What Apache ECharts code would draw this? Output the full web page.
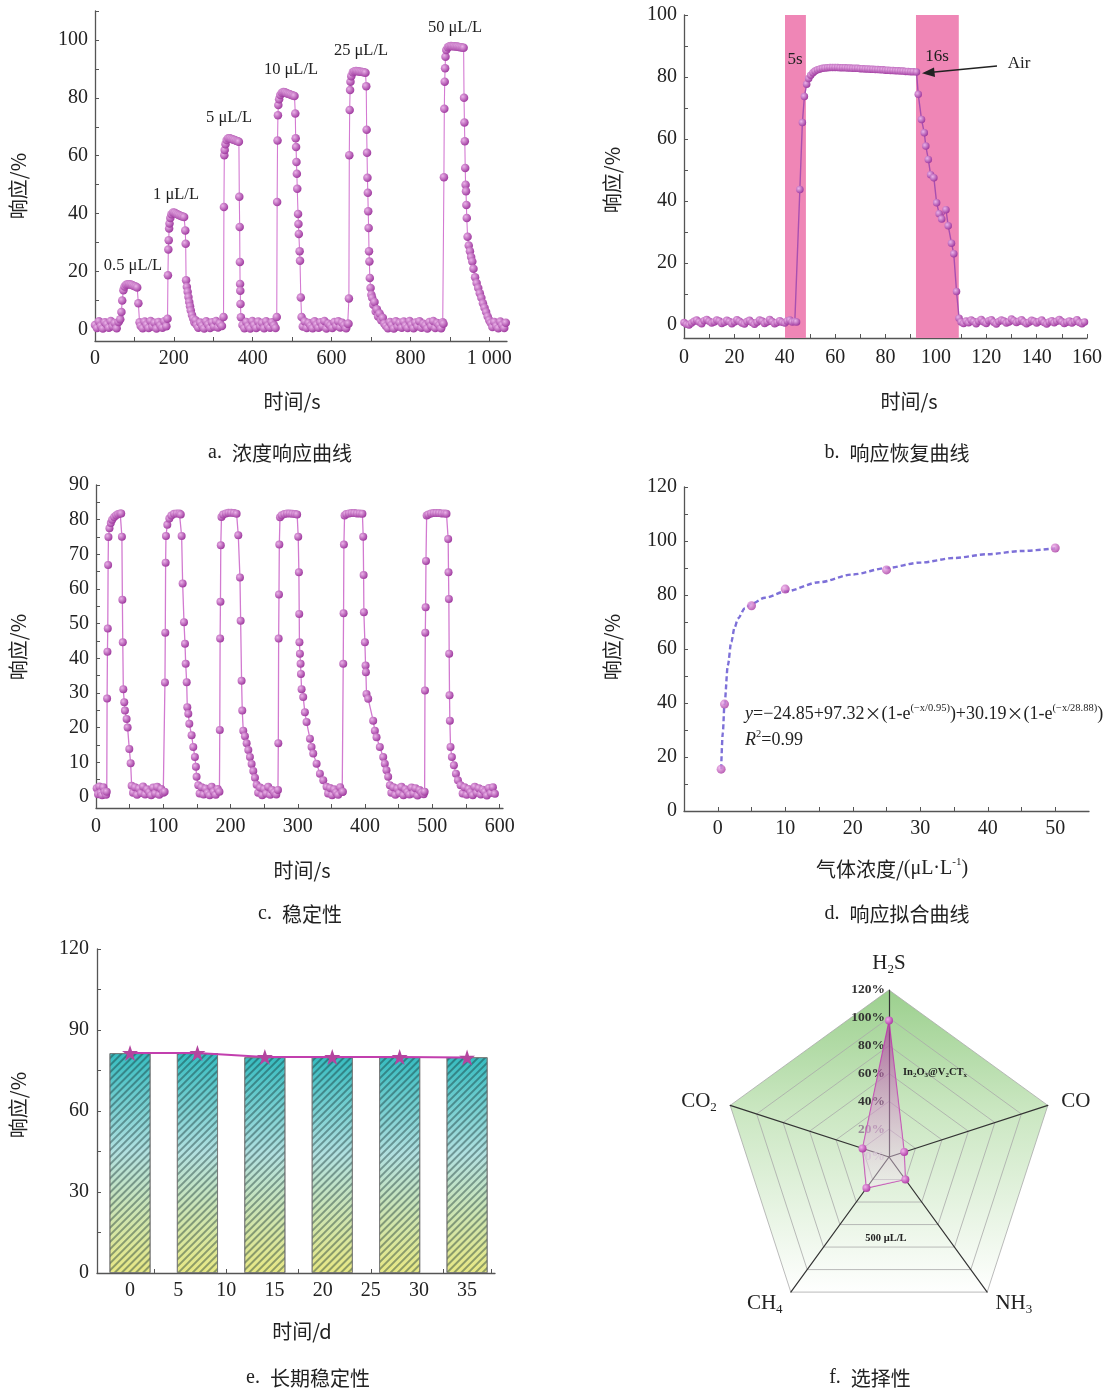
<!DOCTYPE html>
<html><head><meta charset="utf-8">
<script src="https://cdn.jsdelivr.net/npm/echarts@6/dist/echarts.min.js"></script>
<style>html,body{margin:0;padding:0;background:#fff}#c{width:1118px;height:1388px}</style>
</head><body><div id="c"></div>
<script>
// ---------- DATA ----------
// a. concentration response (time s, response %)
const aData = [
[0,1.5],[5,0.5],[10,2.8],[15,1.2],[20,0.3],[25,2.5],[30,1.8],[35,0.6],[40,2.9],[45,1.1],[50,2.2],[55,0.4],[60,2.6],
[64,3.5],[67,6],[69,10],[72,13.5],[75,14.8],[79,15.4],[83,15.6],[87,15.6],[91,15.5],[95,15.3],[99,15],[103,14.8],[107,14.5],[110,9],[113,2.5],
[116,1.2],[121,0.4],[126,2.7],[131,1.6],[136,0.5],[141,2.9],[146,1.0],[151,2.3],[156,0.3],[161,2.6],[166,1.4],[171,0.6],[176,2.8],[181,1.1],
[184,3.7],[185,18.7],[186,27.6],[187,30.8],[188,34.9],[189,36.6],[191,38.5],[194,39.8],[198,40.4],[202,40.3],[206,40],[210,39.7],[214,39.4],[218,39.2],[222,39],[226,38.8],[229,34.2],[230,29.6],[231,17],[233,14.7],[235,13],[237,11.2],[239,9.5],[241,8],[243,6.5],[246,5],[249,3.8],[252,2.5],[255,3.2],[258,1.5],
[262,0.6],[267,2.4],[272,1.3],[277,0.3],[282,2.8],[287,1.7],[292,0.5],[297,2.5],[302,1.0],[307,2.9],[312,0.7],[317,2.1],[322,1.2],
[326,4.3],[327,42.3],[328,60.2],[329,62],[331,64],[334,65.4],[338,66],[342,66],[346,65.8],[350,65.6],[354,65.4],[358,65.2],[362,65],[365,64.8],[366,45.8],[367,35.4],[367.5,23.3],[368,15.7],[368.5,13.4],[369,8.8],[370,4.2],
[374,1.5],[379,0.4],[384,2.6],[389,1.2],[394,0.3],[399,2.9],[404,1.5],[409,0.5],[414,2.7],[419,1.1],[424,2.2],[429,0.4],[434,2.8],[439,1.3],[444,0.6],[449,2.5],[454,1.4],[458,0.5],
[461,4.3],[462,44],[463,65.3],[464,74],[465,77.5],[467,79.5],[470,81],[474,81.8],[478,82],[482,81.9],[486,81.6],[490,81.4],[494,81.2],[498,81],[502,80.8],[506,80.6],[508,74.6],[509,66],[510,63],[511,57.8],[512,53.8],[513,48.6],[515,39.9],[516,36.4],[517,33],[519,27],[520,23.7],[522,11],[524,4.3],
[527,1.0],[532,2.7],[537,0.5],[542,2.2],[547,1.3],[552,0.4],[557,2.8],[562,1.6],[567,0.6],[572,2.5],[577,1.1],[582,2.9],[587,0.3],[592,2.0],[597,1.4],[602,0.5],[607,2.6],[612,1.2],[617,2.8],[622,0.7],[627,2.3],[632,1.5],[637,0.4],[641,2.0],
[643,2],[644,10.7],[645,60.2],[646,75.8],[647,82.7],[648,85.6],[650,87.5],[654,88.8],[658,89.2],[662,89.3],[666,89.2],[670,89.1],[674,89],[678,88.9],[682,88.8],[686,88.7],[688,84],[689,69],[690,61],[691,52.4],[692,47.2],[693,40.8],[694,35],[695,27],[696,23.5],[697,17.8],[699,14.3],[701,12],[703,10.9],[706,8.5],[709,9.5],[712,6.2],[715,7],[718,4.5],[722,5.5],[726,3.2],[730,4],[734,2],
[738,1.2],[743,0.4],[748,2.6],[753,1.5],[758,0.3],[763,2.8],[768,1.0],[773,2.3],[778,0.6],[783,2.7],[788,1.3],[793,0.5],[798,2.9],[803,1.6],[808,0.4],[813,2.4],[818,1.1],[823,2.8],[828,0.6],[833,2.0],[838,1.4],[843,0.3],[848,2.6],[853,1.2],[858,2.9],[863,0.5],[868,2.2],[873,1.5],[878,0.4],[882,2.5],
[884,2],[885,52.6],[886,76.2],[887,85.6],[888,90.2],[889,94.2],[891,96.5],[895,97.5],[899,97.8],[903,97.9],[907,97.8],[911,97.8],[915,97.7],[919,97.7],[923,97.6],[927,97.5],[931,97.4],[935,97.3],[936,80],[937,71.5],[938,65],[939,55.8],[940,50],[941,47.7],[942,43],[943,38.5],[945,32],[948,29],[951,27],[954,25],[957,23.5],[960,21],[964,18],[968,16],[972,14.3],[976,12.5],[980,10.9],[984,9],[988,7.5],[992,6],[996,4.5],[1000,3.2],[1004,2.2],
[1008,0.8],[1013,2.6],[1018,1.2],[1023,0.4],[1028,2.7],[1033,1.5],[1038,0.5],[1042,2.3]
];
const aLabels = ['0.5 μL/L','1 μL/L','5 μL/L','10 μL/L','25 μL/L','50 μL/L'];

// b. response / recovery (time s, response %)
const bData = [
[0,0.8],[1,0.2],[2,0.0],[3,0.6],[4,1.2],[5,1.6],[6,1.0],[7,0.4],[8,1.4],[9,1.8],[10,1.2],[11,0.6],[12,1.0],[13,1.6],[14,1.3],[15,0.5],[16,0.9],[17,1.5],[18,1.1],[19,0.4],[20,1.0],[21,1.7],[22,1.2],[23,0.6],[24,0.3],[25,1.1],[26,1.5],[27,0.8],[28,0.2],[29,0.9],[30,1.6],[31,1.3],[32,0.5],[33,1.0],[34,1.8],[35,1.1],[36,0.4],[37,0.8],[38,1.4],[39,0.9],[40,0.6],[41,1.3],[42,1.6],[43,1.0],[44,1.1],[44.7,1.0],
[46,43.7],[47,65.3],[47.8,73.7],[48.7,77.7],[49.5,79.5],[50.3,80.6],[51.2,81.4],[52,81.9],[53,82.3],[54,82.6],[55,82.8],[56,82.9],
[57,83.0],[58,83.1],[59,83.1],[60,83.1],[61,83.1],[62,83.0],[63,83.0],[64,83.0],[65,82.9],[66,82.9],[67,82.8],[68,82.8],[69,82.8],[70,82.7],[71,82.7],[72,82.6],[73,82.6],[74,82.5],[75,82.5],[76,82.4],[77,82.4],[78,82.3],[79,82.3],[80,82.2],[81,82.2],[82,82.1],[83,82.1],[84,82.0],[85,82.0],[86,81.9],[87,81.9],[88,81.8],[89,81.8],[90,81.7],[91,81.7],[92.3,81.6],
[93,74.4],[94.3,66.3],[95.4,62],[96,57.7],[97,53.4],[97.9,48.5],[99.2,47.5],[100.3,39.4],[101.3,35.9],[102.3,34.2],[104,37.2],[104.9,32],[106.2,26.4],[107.1,23],[108.2,10.8],[109.2,2.2],
[110,1.0],[111,0.5],[112,1.3],[113,0.7],[114,1.6],[115,1.1],[116,0.4],[117,1.2],[118,1.8],[119,1.0],[120,0.5],[121,1.4],[122,1.7],[123,0.9],[124,0.3],[125,1.1],[126,1.6],[127,1.3],[128,0.6],[129,1.0],[130,1.9],[131,1.4],[132,0.8],[133,1.2],[134,1.7],[135,1.0],[136,0.4],[137,0.9],[138,1.5],[139,1.2],[140,0.6],[141,1.1],[142,1.6],[143,0.8],[144,0.3],[145,1.0],[146,1.4],[147,0.7],[148,1.2],[149,1.8],[150,1.1],[151,0.5],[152,0.9],[153,1.3],[154,0.6],[155,1.1],[156,1.7],[157,0.8],[158,0.4],[159,1.0]
];
const bBands = [[40.1,48.4],[92.1,109.1]];

// c. stability / repeated cycles (time s, response %)
const cData = [
[1,2.5],[3,0.8],[5,3.0],[7,1.2],[9,0.5],[11,2.8],[13,1.5],[15,0.6],
[16,1.5],[16.5,28.4],[17,41.9],[17.5,48.6],[18,66.9],[18.5,75],[20,77.5],[22,79],[24,80],[27,80.8],[30,81.3],[33,81.6],[36,81.8],[37.5,81.8],
[38.5,75.1],[39.2,56.9],[39.8,44.6],[40.6,31.1],[42,27.3],[43,24.9],[45.5,22.5],[47,20],[49.5,13.8],[51.5,9.7],[53,3.2],
[55,1.2],[58,2.8],[61,0.6],[64,2.4],[67,1.1],[70,3.0],[73,0.7],[76,2.2],[79,1.4],[82,0.5],[85,2.7],[88,1.0],[91,2.9],[94,0.6],[97,2.3],[100,1.2],
[102,1.5],[102.5,33],[103,47.4],[103.5,67.6],[104,75.3],[106,78.5],[109,80.3],[112,81.2],[116,81.7],[120,81.8],[124,81.8],[126,81.5],
[127.3,75.3],[128.8,61.6],[130.8,50.4],[132.3,44.2],[133.3,38.4],[134.8,33.1],[135.7,25.9],[137.2,24],[138.7,21.1],[142.1,17.8],[144.6,14.4],[147,11.5],[148.5,8.7],[149.5,5.8],[152,3.4],
[154,1.0],[157,2.8],[160,0.7],[163,2.4],[166,1.2],[169,0.5],[172,2.9],[175,1.5],[178,0.6],[181,2.3],
[183.5,1.5],[184,19.3],[184.5,45.7],[185,56.3],[185.5,72.6],[186.5,80.8],[189,81.5],[193,81.8],[197,82],[201,82],[205,81.9],[209,81.7],
[211.5,75.5],[214,63.3],[215,50.8],[216.4,33.5],[217.4,24.9],[218.9,19.1],[221.4,17.5],[223.9,15.5],[226.4,13.5],[228.8,11.5],[231.3,9.5],[233.8,7.5],[236.3,5.5],[238.8,3.5],
[241,1.2],[244,2.7],[247,0.5],[250,2.3],[253,1.0],[256,2.9],[259,0.6],[262,2.0],[265,1.3],[268,0.7],
[270.5,2],[271,15.5],[271.5,45.7],[272,58.4],[272.5,72.8],[273.5,80.7],[276,81.3],[280,81.6],[284,81.8],[288,81.8],[292,81.7],[296,81.6],[299,81.5],
[300.6,75.1],[301.6,64.8],[302.1,52.8],[302.4,44.6],[303.1,41.3],[304.1,38.4],[304.6,35.5],[305.6,31.1],[308,28.8],[310.5,24.4],[313,21.6],[318,16.8],[320.4,14.4],[322.9,12.5],[327.9,9.6],[332.8,6.7],[337.8,4.8],[342.7,2.9],
[345,1.0],[348,2.6],[351,0.5],[354,2.2],[357,1.3],[360,0.6],[363,2.8],[366,1.4],
[367,1.5],[367.5,38.4],[368,53],[368.5,72.8],[369.5,81.2],[372,81.6],[376,81.8],[380,81.9],[384,81.9],[388,81.8],[392,81.8],[396,81.7],
[397.2,75.1],[397.8,64],[398.2,53.3],[399.7,44.6],[400.7,37.9],[401.2,36],[402.1,29.7],[404.6,28.3],[412,22],[414.5,19.1],[417,17.2],[421.9,14.4],[426.9,11.5],[429.3,9.6],[431.8,7.7],[434.3,5.8],[436.8,3.4],
[439,1.2],[442,2.8],[445,0.6],[448,2.4],[451,1.1],[454,2.9],[457,0.5],[460,2.2],[463,1.4],[466,0.7],[469,2.7],[472,1.0],[475,2.5],[478,0.4],[481,2.0],[484,1.3],[487,0.8],
[488.5,1.5],[489,30.7],[489.5,47.4],[490,54.7],[490.5,68.1],[491.5,81.2],[494,81.5],[498,81.8],[502,81.9],[506,81.9],[510,81.9],[514,81.8],[518,81.8],[521,81.7],
[523.5,74.4],[524,64.8],[524.5,57.1],[525,41.3],[525.5,29.3],[526,22],[527,14.4],[529,11.5],[532,9.1],[535,6.7],[538,4.8],[542,3.4],
[545,1.0],[548,2.8],[551,0.6],[554,2.3],[557,1.4],[560,0.5],[563,2.9],[566,1.2],[569,2.5],[572,0.7],[575,2.1],[578,1.5],[581,0.4],[584,2.6],[587,1.1],[590,2.8],[593,0.9]
];

// d. fitted response vs concentration
const dConc = [0.5, 1, 5, 10, 25, 50];
const dResp = [15.5, 39.6, 76, 82.2, 89.3, 97.4];
const dFitX = [0.5,0.75,1,1.5,2,2.5,3,4,5,7,10,15,20,25,30,35,40,45,50];
const dFitY = [15.5,29.0,39.6,54.0,62.6,68.0,71.3,75.0,76.8,79.0,81.3,84.7,87.6,90.0,92.0,93.7,95.1,96.3,97.3];

// e. long-term stability
const eDays = [0, 7, 14, 21, 28, 35];
const eBar  = [81.4, 81.4, 79.9, 79.9, 79.9, 79.9];
const eLine = [81.5, 81.5, 80.0, 80.0, 80.0, 79.8];

// f. selectivity (radar)
const fGases = ['H2S', 'CO2', 'CH4', 'NH3', 'CO'];
const fResp  = [98, 20, 27.6, 20, 11.5];

// tick values
const aXLab = [0,200,400,600,800,1000], aXTick = [0,100,200,300,400,500,600,700,800,900,1000];
const aYLab = [0,20,40,60,80,100], aYTick = [0,10,20,30,40,50,60,70,80,90,100,110];
const bXLab = [0,20,40,60,80,100,120,140,160], bXTick = [0,10,20,30,40,50,60,70,80,90,100,110,120,130,140,150,160];
const bYLab = [0,20,40,60,80,100], bYTick = [0,10,20,30,40,50,60,70,80,90,100];
const cXLab = [0,100,200,300,400,500,600], cXTick = [0,50,100,150,200,250,300,350,400,450,500,550,600];
const cYLab = [0,10,20,30,40,50,60,70,80,90], cYTick = [0,5,10,15,20,25,30,35,40,45,50,55,60,65,70,75,80,85,90];
const dXLab = [0,10,20,30,40,50], dXTick = [0,5,10,15,20,25,30,35,40,45,50];
const dYLab = [0,20,40,60,80,100,120], dYTick = [0,10,20,30,40,50,60,70,80,90,100,110,120];
const eXLab = [0,5,10,15,20,25,30,35], eXTick = [0,2.5,5,7.5,10,12.5,15,17.5,20,22.5,25,27.5,30,32.5,35,37.5];
const eYLab = [0,30,60,90,120], eYTick = [0,15,30,45,60,75,90,105,120];

// ---------- CHART ----------
const SERIF = 'Liberation Serif';
const CJK = '"Noto Sans CJK SC"';
const sphere = (c1, c2) => ({type:'radial', x:0.35, y:0.35, r:0.75,
  colorStops:[{offset:0, color:c1},{offset:1, color:c2}]});
const DOT = sphere('#eab2e8', '#982e98');

function axis(gi, min, max, labs, ticks, margin, fmt) {
  return {
    type:'value', gridIndex:gi, min:min, max:max,
    axisLine:{show:true, onZero:false, lineStyle:{color:'#555', width:1.3}},
    axisTick:{show:true, inside:true, length:4, customValues:ticks, lineStyle:{color:'#555', width:1}},
    axisLabel:{customValues:labs, margin:margin, fontFamily:SERIF, fontSize:20, color:'#222',
      formatter: fmt || function(v){ return String(v); }},
    splitLine:{show:false}
  };
}

const grids = [
  {left:95,  top:11,  width:412, height:330},
  {left:684, top:15,  width:403, height:323},
  {left:96,  top:485, width:407, height:323},
  {left:684, top:487, width:405, height:324},
  {left:97,  top:949, width:398, height:324}
].map(g => Object.assign({outerBoundsMode:'none', containLabel:false}, g));

const xAxes = [
  axis(0, 0, 1045, aXLab, aXTick, 8, v => v === 1000 ? '1 000' : String(v)),
  axis(1, 0, 160, bXLab, bXTick, 10),
  axis(2, 0, 605, cXLab, cXTick, 9),
  axis(3, -5, 55, dXLab, dXTick, 8),
  axis(4, -3.43, 37.9, eXLab, eXTick, 8)
];
const yAxes = [
  axis(0, -4, 110, aYLab, aYTick, 7),
  axis(1, -4.2, 100, bYLab, bYTick, 7),
  axis(2, -3.2, 90, cYLab, cYTick, 7),
  axis(3, 0, 120, dYLab, dYTick, 7),
  axis(4, 0, 120, eYLab, eYTick, 8)
];

const starPath = 'path://M50,2 L61.8,36.2 L97.6,36.2 L68.6,57.4 L79.6,91.6 L50,70.4 L20.4,91.6 L31.4,57.4 L2.4,36.2 L38.2,36.2 Z';

const series = [
  {type:'line', xAxisIndex:0, yAxisIndex:0, data:aData, symbol:'circle', symbolSize:8.5, showAllSymbol:true,
   lineStyle:{color:'#d47ad2', width:1.1}, itemStyle:{color:DOT}, z:3},
  {type:'line', xAxisIndex:1, yAxisIndex:1, data:[], symbol:'none',
   markArea:{silent:true, itemStyle:{color:'#ef86b6'},
     data: bBands.map(b => [{xAxis:b[0]},{xAxis:b[1]}])}, z:1},
  {type:'line', xAxisIndex:1, yAxisIndex:1, data:bData, symbol:'circle', symbolSize:7.5, showAllSymbol:true,
   lineStyle:{color:'#a84fb0', width:1.4}, itemStyle:{color:DOT}, z:3},
  {type:'line', xAxisIndex:2, yAxisIndex:2, data:cData, symbol:'circle', symbolSize:8, showAllSymbol:true,
   lineStyle:{color:'#d27ad0', width:1.3}, itemStyle:{color:DOT}, z:3},
  {type:'line', xAxisIndex:3, yAxisIndex:3, data:dFitX.map((x,i)=>[x,dFitY[i]]), symbol:'none', smooth:0.3, smoothMonotone:'x',
   lineStyle:{color:'#7d70d8', width:2.4, type:[5,3]}, z:2},
  {type:'scatter', xAxisIndex:3, yAxisIndex:3, data:dConc.map((x,i)=>[x,dResp[i]]), symbol:'circle', symbolSize:9,
   itemStyle:{color:sphere('#f0b0ec','#a02c9a')}, z:3},
  {type:'bar', xAxisIndex:4, yAxisIndex:4, data:eDays.map((d,i)=>[d,eBar[i]]), barWidth:41,
   itemStyle:{color:{type:'linear', x:0, y:0, x2:0, y2:1, colorStops:[
       {offset:0, color:'#36bcc0'},{offset:0.45, color:'#b2e0e0'},{offset:1, color:'#e8e884'}]},
     borderColor:'#777', borderWidth:0.8,
     decal:{symbol:'rect', symbolSize:1, dashArrayX:[1,0], dashArrayY:[1.5,2.3], rotation:-Math.PI/4, color:'rgba(20,50,50,0.42)'}}, z:2},
  {type:'line', xAxisIndex:4, yAxisIndex:4, data:eDays.map((d,i)=>[d,eLine[i]]), symbol:starPath, symbolSize:16,
   lineStyle:{color:'#c23fae', width:2}, itemStyle:{color:'#b4459f'}, z:4},
  {type:'radar', radarIndex:0, symbol:'circle', symbolSize:8,
   data:[{value:fResp}],
   lineStyle:{color:'#c04eb0', width:1.2},
   itemStyle:{color:sphere('#f0b0ea','#a8309e')},
   areaStyle:{color:{type:'linear', x:0, y:0, x2:0, y2:1, colorStops:[
     {offset:0, color:'rgba(172,44,154,0.95)'},{offset:1, color:'rgba(250,235,250,0.55)'}]}}, z:3}
];

const nameMap = {H2S:'{n|H}{s|2}{n|S}', CO2:'{n|CO}{s|2}', CH4:'{n|CH}{s|4}', NH3:'{n|NH}{s|3}', CO:'{n|CO}'};
const radar = {
  center:[889,1157], radius:167, startAngle:90, splitNumber:6, shape:'polygon',
  indicator: fGases.map((g,i) => i === 0 ? {name:g, min:0, max:120, axisLabel:{show:true}} : {name:g, min:0, max:120}),
  nameGap: 14,
  axisName:{formatter: n => nameMap[n], rich:{
    n:{fontFamily:SERIF, fontSize:21, color:'#222', lineHeight:26},
    s:{fontFamily:SERIF, fontSize:13, color:'#222', verticalAlign:'bottom', lineHeight:26}}},
  axisLine:{lineStyle:{color:'#333', width:1.2}},
  axisTick:{show:false},
  axisLabel:{show:false, margin:4, fontFamily:SERIF, fontSize:13.5, fontWeight:'bold', color:'#333',
    formatter: v => v === 0 ? '{g|0%}' : (v === 20 ? '{m|20%}' : v + '%'),
    rich:{g:{color:'#c8c8c8', fontFamily:SERIF, fontSize:13.5, fontWeight:'bold'},
          m:{color:'#9a8a9a', fontFamily:SERIF, fontSize:13.5, fontWeight:'bold'}}},
  splitLine:{lineStyle:{color:'#aaaaaa', width:0.8}},
  splitArea:{show:true, areaStyle:{color:[{type:'linear', x:0, y:990, x2:0, y2:1295, global:true, colorStops:[
    {offset:0, color:'#9cd08e'},{offset:0.4, color:'#cbe7c2'},{offset:1, color:'#ffffff'}]}]}}
};

function T(x, y, text, o) {
  o = o || {};
  return {type:'text', x:x, y:y, rotation:o.rot || 0, z:10, silent:true,
    style:{text:text, font:o.font || ('20px ' + CJK), fill:o.color || '#222',
      align:o.align || 'center', verticalAlign:'middle', textAlign:o.align || 'center', textVerticalAlign:'middle',
      rich:o.rich}};
}
const annFont = '16.5px "Liberation Serif"';
const richEq = {
  n:{fontFamily:SERIF, fontSize:18, color:'#222', lineHeight:22},
  x:{fontFamily:CJK, fontSize:17, color:'#222', lineHeight:22},
  i:{fontFamily:SERIF, fontSize:18, fontStyle:'italic', color:'#222', lineHeight:22},
  s:{fontFamily:SERIF, fontSize:10.5, color:'#222', verticalAlign:'top', lineHeight:22}
};
const richSmall = {
  b:{fontFamily:SERIF, fontSize:10.5, fontWeight:'bold', color:'#222', lineHeight:14},
  s:{fontFamily:SERIF, fontSize:7, fontWeight:'bold', color:'#222', verticalAlign:'bottom', lineHeight:14}
};
const richAxis = {
  a:{fontFamily:CJK, fontSize:20, color:'#222', lineHeight:24},
  b:{fontFamily:SERIF, fontSize:20, color:'#222', lineHeight:24},
  s:{fontFamily:SERIF, fontSize:11, color:'#222', verticalAlign:'top', lineHeight:24}
};
const richSub = {
  l:{fontFamily:SERIF, fontSize:20, color:'#222', lineHeight:26},
  c:{fontFamily:CJK, fontSize:20, color:'#222', lineHeight:26}
};
const sub = (x, y, letter, text) => T(x, y, '{l|' + letter + '.  }{c|' + text + '}', {rich:richSub});

const graphic = [
  // panel a annotations
  T(133, 266, aLabels[0], {font:annFont}), T(176, 195, aLabels[1], {font:annFont}),
  T(229, 118, aLabels[2], {font:annFont}), T(291, 70, aLabels[3], {font:annFont}),
  T(361, 51, aLabels[4], {font:annFont}), T(455, 28, aLabels[5], {font:annFont}),
  // panel b annotations
  T(795, 60, '5s', {font:'17px "Liberation Serif"'}), T(937, 57, '16s', {font:'17px "Liberation Serif"'}),
  T(1019, 64, 'Air', {font:'17px "Liberation Serif"'}),
  {type:'line', z:10, silent:true, shape:{x1:997, y1:66, x2:932, y2:72.2}, style:{stroke:'#222', lineWidth:1.6}},
  {type:'polygon', z:10, silent:true, shape:{points:[[922,73.2],[934,67.6],[935,77]]}, style:{fill:'#222'}},
  // panel d formula
  T(745, 714, '{i|y}{n|=−24.85+97.32}{x|×}{n|(1-e}{s|(−x/0.95)}{n|)+30.19}{x|×}{n|(1-e}{s|(−x/28.88)}{n|)}', {align:'left', rich:richEq}),
  T(745, 740, '{i|R}{s|2}{n|=0.99}', {align:'left', rich:richEq}),
  // panel f inner labels
  T(935, 1072, '{b|In}{s|2}{b|O}{s|3}{b|@V}{s|2}{b|CT}{s|x}', {rich:richSmall}),
  T(886, 1238, '500 μL/L', {font:'bold 10.5px "Liberation Serif"'}),
  // axis titles
  T(18, 186, '响应/%', {rot:Math.PI/2}), T(612, 180, '响应/%', {rot:Math.PI/2}),
  T(18, 647, '响应/%', {rot:Math.PI/2}), T(612, 647, '响应/%', {rot:Math.PI/2}),
  T(18, 1105, '响应/%', {rot:Math.PI/2}),
  T(292, 401, '时间/s'), T(909, 401, '时间/s'), T(302, 870, '时间/s'),
  T(892, 869, '{a|气体浓度/}{b|(μL·L}{s|-1}{b|)}', {rich:richAxis}),
  T(302, 1331, '时间/d'),
  // panel subtitles
  sub(280, 453, 'a', '浓度响应曲线'), sub(897, 453, 'b', '响应恢复曲线'),
  sub(300, 914, 'c', '稳定性'), sub(897, 914, 'd', '响应拟合曲线'),
  sub(308, 1378, 'e', '长期稳定性'), sub(870, 1378, 'f', '选择性')
];

const chart = echarts.init(document.getElementById('c'), null, {renderer:'canvas'});
chart.setOption({
  animation:false,
  backgroundColor:'#ffffff',
  textStyle:{fontFamily:SERIF},
  grid:grids, xAxis:xAxes, yAxis:yAxes, radar:radar,
  series:series, graphic:graphic
});
</script>
</body></html>
